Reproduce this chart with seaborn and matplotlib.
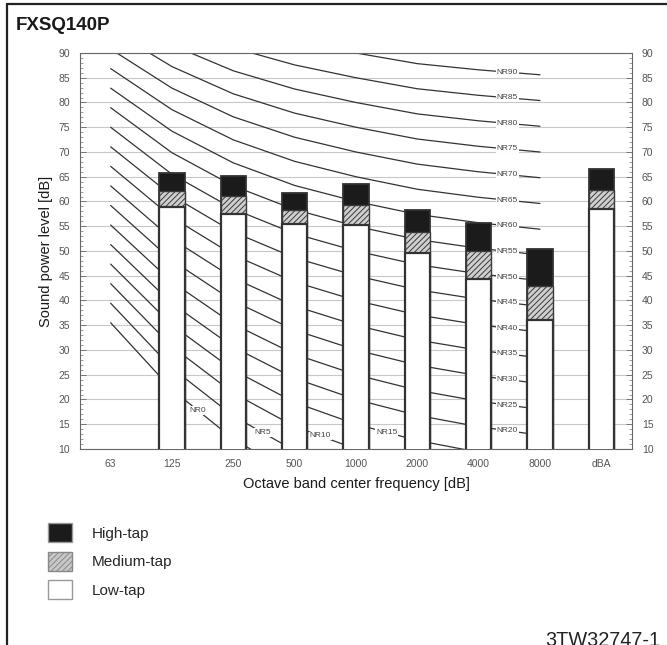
import numpy as np
import pandas as pd
import matplotlib
matplotlib.use("Agg")
import matplotlib.pyplot as plt
import seaborn as sns
from matplotlib.patches import Patch
from matplotlib.lines import Line2D
from matplotlib.ticker import MultipleLocator

# ---------------- data ----------------
categories = ["63", "125", "250", "500", "1000", "2000", "4000", "8000", "dBA"]
bar_bands = ["125", "250", "500", "1000", "2000", "4000", "8000", "dBA"]
high_tap = [65.8, 65.2, 61.7, 63.5, 58.3, 55.6, 50.4, 66.6]
medium_tap = [62.1, 61.2, 58.3, 59.3, 53.9, 49.9, 43.0, 62.3]
low_tap = [58.9, 57.5, 55.4, 55.3, 49.6, 44.3, 36.1, 58.5]

# NR (noise rating) curves: level = offset + slope * NR, per octave band 63..8000
nr_bands = ["63", "125", "250", "500", "1000", "2000", "4000", "8000"]
nr_offset = [35.5, 22.0, 12.0, 4.8, 0.0, -3.5, -6.1, -8.0]
nr_slope = [0.790, 0.870, 0.930, 0.974, 1.000, 1.015, 1.030, 1.040]
nr_values = [0, 5, 10, 15, 20, 25, 30, 35, 40, 45, 50, 55, 60, 65, 70, 75, 80, 85, 90]

y_ticks = [10, 15, 20, 25, 30, 35, 40, 45, 50, 55, 60, 65, 70, 75, 80, 85, 90]
legend_labels = ["High-tap", "Medium-tap", "Low-tap"]

# ---------------- style ----------------
sns.set_theme(style="white")
plt.rcParams["font.family"] = ["Liberation Sans", "DejaVu Sans"]
plt.rcParams["hatch.linewidth"] = 0.7

W, H = 667, 645
fig = plt.figure(figsize=(W / 100, H / 100), dpi=100)
ax = fig.add_axes([80 / W, 1 - 449 / H, 552 / W, 396 / H])

bars_df = pd.DataFrame({"band": bar_bands, "high": high_tap,
                        "medium": medium_tap, "low": low_tap})

# stacked look by overlaying bars
sns.barplot(data=bars_df, x="band", y="high", order=categories, color="#1b1b1b",
            saturation=1, edgecolor="#333333", linewidth=1.3, width=0.41,
            errorbar=None, ax=ax, zorder=3)
sns.barplot(data=bars_df, x="band", y="medium", order=categories, color="#cfcfcf",
            saturation=1, edgecolor="#3a3a3a", linewidth=1.0, hatch="//////",
            width=0.41, errorbar=None, ax=ax, zorder=4)
sns.barplot(data=bars_df, x="band", y="low", order=categories, color="white",
            saturation=1, edgecolor="#333333", linewidth=1.6, width=0.41,
            errorbar=None, ax=ax, zorder=5)

# NR curves
pos = np.arange(len(nr_bands))
rows = []
for nr in nr_values:
    for i, b in enumerate(nr_bands):
        rows.append({"nr": nr, "pos": i, "level": nr_offset[i] + nr_slope[i] * nr})
nr_df = pd.DataFrame(rows)
sns.lineplot(data=nr_df, x="pos", y="level", units="nr", estimator=None,
             color="#333333", linewidth=0.9, ax=ax, zorder=2, legend=False)

low_label_x = {0: 1.42, 5: 2.48, 10: 3.42, 15: 4.5}
for nr in nr_values:
    lv = nr_df.loc[nr_df["nr"] == nr, "level"].to_numpy()
    lx = low_label_x.get(nr, 6.47)
    ly = np.interp(lx, pos, lv)
    ax.text(lx, ly, f"NR{nr}", fontsize=6, color="#444444", ha="center",
            va="center", zorder=2.5,
            bbox=dict(facecolor="white", edgecolor="none", pad=0.6))

# axes cosmetics
ax.set_xlim(-0.5, 8.5)
ax.set_ylim(10, 90)
ax.set_yticks(y_ticks)
ax.yaxis.set_minor_locator(MultipleLocator(1))
ax.yaxis.grid(True, color="#c8c8c8", linewidth=0.8)
ax.set_axisbelow(True)
ax.tick_params(axis="x", length=0, pad=7, labelsize=7.5, labelcolor="#555555")
ax.tick_params(axis="y", which="both", direction="in", left=True, right=True,
               labelleft=True, labelright=True, labelsize=7.5,
               labelcolor="#555555", color="#777777", pad=7)
ax.tick_params(axis="y", which="major", length=4, width=0.7)
ax.tick_params(axis="y", which="minor", length=2.5, width=0.5)
for s in ax.spines.values():
    s.set_visible(True)
    s.set_color("#666666")
    s.set_linewidth(0.8)

ax.set_xlabel("Octave band center frequency [dB]", fontsize=10.5,
              color="#1a1a1a", labelpad=6)
ax.set_ylabel("Sound power level [dB]", fontsize=10.5, color="#1a1a1a",
              labelpad=4)

# title and frame
fig.text(16 / W, 1 - 25 / H, "FXSQ140P", fontsize=13.5, weight="bold",
         ha="left", va="center", color="#1a1a1a")
fig.add_artist(Line2D([7 / W, 7 / W], [0, 1 - 4 / H], transform=fig.transFigure,
                      color="#222222", linewidth=1.6))
fig.add_artist(Line2D([7 / W, 1], [1 - 4 / H, 1 - 4 / H], transform=fig.transFigure,
                      color="#222222", linewidth=1.6))

# legend
handles = [
    Patch(facecolor="#1b1b1b", edgecolor="#999999", linewidth=1.0),
    Patch(facecolor="#c8c8c8", edgecolor="#888888", hatch="//////", linewidth=1.0),
    Patch(facecolor="white", edgecolor="#999999", linewidth=1.0),
]
fig.legend(handles, legend_labels, loc="upper left",
           bbox_to_anchor=(48 / W, 1 - 523 / H), frameon=False, fontsize=11,
           handlelength=1.55, handleheight=1.55, handletextpad=1.3,
           labelspacing=0.62, borderpad=0, borderaxespad=0)

fig.text(545 / W, -1 / H, "3TW32747-1", fontsize=14.3, ha="left",
         va="baseline", color="#222222")

fig.savefig("out.png", dpi=100)
